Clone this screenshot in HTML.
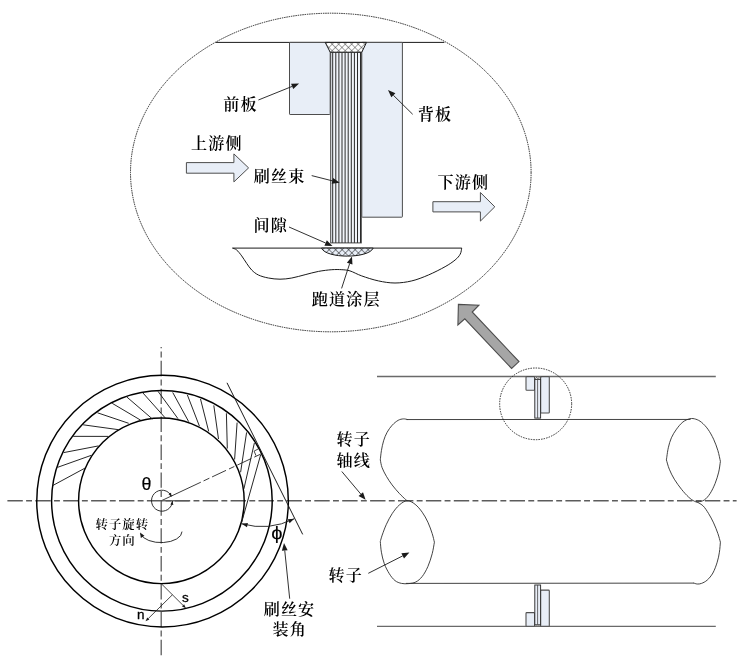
<!DOCTYPE html>
<html lang="zh">
<head>
<meta charset="utf-8">
<title>刷式密封结构示意图</title>
<style>
html,body{margin:0;padding:0;background:#fff;}
body{width:749px;height:664px;overflow:hidden;}
svg{display:block;will-change:transform;}
.cjk{font-family:"Liberation Serif","Noto Serif CJK SC",serif;fill:#000;letter-spacing:1.1px;font-weight:600;}
.lat{font-family:"Liberation Sans","DejaVu Sans",sans-serif;fill:#000;stroke:#000;stroke-width:0.3px;}
</style>
</head>
<body>
<svg width="749" height="664" viewBox="0 0 749 664">
<rect width="749" height="664" fill="#fff"/>
<ellipse cx="330.8" cy="172.5" rx="200.3" ry="159.3" fill="none" stroke="#1a1a1a" stroke-width="0.95" stroke-dasharray="1.45 0.85"/>
<line x1="215.8" y1="42.4" x2="444.4" y2="42.4" stroke="#1a1a1a" stroke-width="1"/>
<rect x="289.5" y="42.4" width="40.7" height="72.1" fill="#e8eef7" stroke="#4d4d4d" stroke-width="1" rx="0.6"/>
<rect x="361.8" y="42.4" width="40.6" height="174.8" fill="#e8eef7" stroke="#4d4d4d" stroke-width="1" rx="0.6"/>
<rect x="330.7" y="52.2" width="30.6" height="190.7" fill="#f1f4fa" stroke="#444" stroke-width="1"/>
<line x1="332.7" y1="52.2" x2="332.7" y2="242.9" stroke="#2a2a2a" stroke-width="1"/>
<line x1="335.8" y1="52.2" x2="335.8" y2="242.9" stroke="#2a2a2a" stroke-width="1"/>
<line x1="338.9" y1="52.2" x2="338.9" y2="242.9" stroke="#2a2a2a" stroke-width="1"/>
<line x1="342.0" y1="52.2" x2="342.0" y2="242.9" stroke="#2a2a2a" stroke-width="1"/>
<line x1="345.1" y1="52.2" x2="345.1" y2="242.9" stroke="#2a2a2a" stroke-width="1"/>
<line x1="348.2" y1="52.2" x2="348.2" y2="242.9" stroke="#2a2a2a" stroke-width="1"/>
<line x1="351.3" y1="52.2" x2="351.3" y2="242.9" stroke="#2a2a2a" stroke-width="1"/>
<line x1="354.4" y1="52.2" x2="354.4" y2="242.9" stroke="#2a2a2a" stroke-width="1"/>
<line x1="357.5" y1="52.2" x2="357.5" y2="242.9" stroke="#2a2a2a" stroke-width="1"/>
<line x1="360.5" y1="52.2" x2="360.5" y2="242.9" stroke="#2a2a2a" stroke-width="1"/>
<defs><pattern id="xh" width="4.6" height="4.6" patternUnits="userSpaceOnUse" patternTransform="translate(0.4 -2) rotate(45)"><path d="M0 0H4.6M0 0V4.6" stroke="#222" stroke-width="0.8" fill="none"/></pattern><pattern id="xh2" width="4.6" height="4.6" patternUnits="userSpaceOnUse" patternTransform="rotate(45 2 0)"><path d="M0 0H4.6M0 0V4.6" stroke="#111" stroke-width="0.95" fill="none"/></pattern></defs>
<polygon points="325.2,42.4 366.5,42.4 361.8,52.2 330.2,52.2" fill="#fff" stroke="none"/>
<polygon points="325.2,42.4 366.5,42.4 361.8,52.2 330.2,52.2" fill="url(#xh)" stroke="#1a1a1a" stroke-width="1"/>
<path d="M232.5 248.1 H461.8" stroke="#1a1a1a" stroke-width="1" fill="none"/>
<path d="M232.50 248.10 C233.20 248.42 235.17 248.70 236.70 250.00 C238.23 251.30 240.03 253.67 241.70 255.90 C243.37 258.13 245.03 261.05 246.70 263.40 C248.37 265.75 249.75 268.07 251.70 270.00 C253.65 271.93 255.62 273.67 258.40 275.00 C261.18 276.33 264.80 277.30 268.40 278.00 C272.00 278.70 276.10 279.20 280.00 279.20 C283.90 279.20 287.62 278.75 291.80 278.00 C295.98 277.25 300.65 275.80 305.10 274.70 C309.55 273.60 314.05 272.23 318.50 271.40 C322.95 270.57 327.92 269.98 331.80 269.70 C335.68 269.42 338.77 269.50 341.80 269.70 C344.83 269.90 346.68 269.87 350.00 270.90 C353.32 271.93 356.97 274.23 361.70 275.90 C366.43 277.57 372.85 279.72 378.40 280.90 C383.95 282.08 389.43 283.00 395.00 283.00 C400.57 283.00 406.23 282.23 411.80 280.90 C417.37 279.57 422.85 277.37 428.40 275.00 C433.95 272.63 440.65 269.20 445.10 266.70 C449.55 264.20 452.58 262.08 455.10 260.00 C457.62 257.92 459.10 256.18 460.20 254.20 C461.30 252.22 461.45 249.12 461.70 248.10" stroke="#1a1a1a" stroke-width="1" fill="none"/>
<path d="M321.5 248.1 C326 258.8 368.5 258.8 373.2 248.1 Z" fill="#e8eef7" stroke="none"/>
<path d="M321.5 248.1 C326 258.8 368.5 258.8 373.2 248.1 Z" fill="url(#xh2)" stroke="#1a1a1a" stroke-width="1"/>
<polygon points="186.4,162.6 233.9,162.6 233.9,153.9 248.6,167.9 233.9,181.9 233.9,173.20000000000002 186.4,173.20000000000002" fill="#e8eef7" stroke="#4d4d4d" stroke-width="1" stroke-linejoin="miter"/>
<polygon points="432.9,201.70000000000002 480.4,201.70000000000002 480.4,192.5 494.8,206.8 480.4,221.10000000000002 480.4,211.9 432.9,211.9" fill="#e8eef7" stroke="#4d4d4d" stroke-width="1" stroke-linejoin="miter"/>
<text x="223.20" y="109.90" font-size="16.1" class="cjk" text-anchor="start" >前板</text>
<line x1="258.40" y1="100.00" x2="292.14" y2="86.40" stroke="#1a1a1a" stroke-width="0.9"/><polygon points="299.10,83.60 293.23,89.09 291.06,83.71" fill="#1a1a1a"/>
<text x="417.80" y="120.40" font-size="16.1" class="cjk" text-anchor="start" >背板</text>
<line x1="412.70" y1="114.30" x2="393.35" y2="95.26" stroke="#1a1a1a" stroke-width="0.9"/><polygon points="388.00,90.00 395.38,93.19 391.31,97.33" fill="#1a1a1a"/>
<text x="191.00" y="148.50" font-size="16.1" class="cjk" text-anchor="start" >上游侧</text>
<text x="437.50" y="188.00" font-size="16.1" class="cjk" text-anchor="start" >下游侧</text>
<text x="253.80" y="181.80" font-size="16.1" class="cjk" text-anchor="start" >刷丝束</text>
<line x1="311.70" y1="175.60" x2="332.43" y2="180.86" stroke="#1a1a1a" stroke-width="0.9"/><polygon points="339.70,182.70 331.72,183.67 333.14,178.05" fill="#1a1a1a"/>
<text x="253.60" y="231.30" font-size="16.1" class="cjk" text-anchor="start" >间隙</text>
<line x1="289.00" y1="227.00" x2="325.63" y2="243.00" stroke="#1a1a1a" stroke-width="0.9"/><polygon points="332.50,246.00 324.47,245.66 326.79,240.34" fill="#1a1a1a"/>
<text x="311.80" y="305.10" font-size="16.1" class="cjk" text-anchor="start" >跑道涂层</text>
<line x1="341.60" y1="288.40" x2="349.68" y2="263.53" stroke="#1a1a1a" stroke-width="0.9"/><polygon points="352.00,256.40 352.44,264.43 346.92,262.64" fill="#1a1a1a"/>
<polygon points="458.4,304.4 478.9,305.2 472.2,312.0 519,361.6 511.6,368.5 464.8,318.8 457.9,324.9" fill="#a6a6a6" stroke="#4c4c4c" stroke-width="1.1" stroke-linejoin="miter"/>
<line x1="377" y1="376.5" x2="715.8" y2="376.5" stroke="#6a6a6a" stroke-width="1.3"/>
<line x1="377" y1="626.3" x2="715.8" y2="626.3" stroke="#6a6a6a" stroke-width="1.3"/>
<line x1="7.4" y1="500.75" x2="736.6" y2="500.75" stroke="#5c5c5c" stroke-width="1.3" stroke-dasharray="15.4 3.3 5.9 3.3"/>
<line x1="406.5" y1="419.55" x2="690.5" y2="419.45" stroke="#2e2e2e" stroke-width="0.9"/>
<line x1="406" y1="583.4" x2="694" y2="583.1" stroke="#2e2e2e" stroke-width="0.9"/>
<path d="M407.60 419.55 C406.90 419.44 404.97 418.77 403.40 418.90 C401.83 419.02 400.07 419.25 398.20 420.30 C396.33 421.35 394.05 423.20 392.20 425.20 C390.35 427.20 388.53 429.70 387.10 432.30 C385.67 434.90 384.55 437.73 383.60 440.80 C382.65 443.87 381.95 447.52 381.40 450.70 C380.85 453.88 380.48 458.37 380.30 459.90" stroke="#2e2e2e" stroke-width="0.9" fill="none" stroke-linejoin="round"/>
<path d="M380.30 459.90 C380.60 461.20 381.08 464.97 382.10 467.70 C383.12 470.43 384.73 473.43 386.40 476.30 C388.07 479.17 389.95 482.05 392.10 484.90 C394.25 487.75 397.03 490.95 399.30 493.40 C401.57 495.85 404.32 498.35 405.70 499.60 C407.08 500.85 407.28 500.68 407.60 500.90" stroke="#2e2e2e" stroke-width="0.9" fill="none" stroke-linejoin="round"/>
<path d="M380.30 541.50 C380.62 540.43 381.18 537.97 382.20 535.10 C383.22 532.23 384.73 527.88 386.40 524.30 C388.07 520.72 390.05 516.82 392.20 513.60 C394.35 510.38 396.80 507.15 399.30 505.00 C401.80 502.85 404.57 500.82 407.20 500.70 C409.83 500.58 412.60 502.38 415.10 504.30 C417.60 506.22 420.07 509.22 422.20 512.20 C424.33 515.18 426.23 518.63 427.90 522.20 C429.57 525.77 431.12 530.27 432.20 533.60 C433.28 536.93 434.03 540.77 434.40 542.20" stroke="#2e2e2e" stroke-width="0.9" fill="none" stroke-linejoin="round"/>
<path d="M380.30 541.50 C380.48 543.28 380.73 548.50 381.40 552.20 C382.07 555.90 382.98 560.12 384.30 563.70 C385.62 567.28 387.52 570.88 389.30 573.70 C391.08 576.52 392.97 578.98 395.00 580.60 C397.03 582.22 399.25 582.90 401.50 583.40 C403.75 583.90 406.12 583.83 408.50 583.60 C410.88 583.37 413.52 583.18 415.80 582.00 C418.08 580.82 420.18 579.08 422.20 576.50 C424.22 573.92 426.23 570.30 427.90 566.50 C429.57 562.70 431.12 557.75 432.20 553.70 C433.28 549.65 434.03 544.12 434.40 542.20" stroke="#2e2e2e" stroke-width="0.9" fill="none" stroke-linejoin="round"/>
<path d="M666.40 459.90 C666.72 457.88 667.47 451.48 668.30 447.80 C669.13 444.12 670.03 440.90 671.40 437.80 C672.77 434.70 674.58 431.83 676.50 429.20 C678.42 426.57 680.65 423.75 682.90 422.00 C685.15 420.25 687.85 419.17 690.00 418.70 C692.15 418.23 693.88 418.60 695.80 419.20 C697.72 419.80 699.48 420.63 701.50 422.30 C703.52 423.97 705.88 426.38 707.90 429.20 C709.92 432.02 711.93 435.63 713.60 439.20 C715.27 442.77 716.77 446.90 717.90 450.60 C719.03 454.30 719.98 459.60 720.40 461.40" stroke="#2e2e2e" stroke-width="0.9" fill="none" stroke-linejoin="round"/>
<path d="M666.40 459.90 C666.88 461.45 667.98 465.98 669.30 469.20 C670.62 472.42 672.27 475.85 674.30 479.20 C676.33 482.55 679.12 486.32 681.50 489.30 C683.88 492.28 686.47 495.12 688.60 497.10 C690.73 499.08 692.75 500.42 694.30 501.20 C695.85 501.98 696.23 502.00 697.90 501.80 C699.57 501.60 702.27 501.38 704.30 500.00 C706.33 498.62 708.30 496.25 710.10 493.50 C711.90 490.75 713.67 487.07 715.10 483.50 C716.53 479.93 717.82 475.78 718.70 472.10 C719.58 468.42 720.12 463.18 720.40 461.40" stroke="#2e2e2e" stroke-width="0.9" fill="none" stroke-linejoin="round"/>
<path d="M695.80 501.40 C696.98 502.12 700.77 503.67 702.90 505.70 C705.03 507.73 706.82 510.73 708.60 513.60 C710.38 516.47 712.05 519.57 713.60 522.90 C715.15 526.23 716.77 530.38 717.90 533.60 C719.03 536.82 719.98 540.77 720.40 542.20" stroke="#2e2e2e" stroke-width="0.9" fill="none" stroke-linejoin="round"/>
<path d="M720.40 542.20 C720.23 543.87 719.93 548.87 719.40 552.20 C718.87 555.53 718.28 558.73 717.20 562.20 C716.12 565.67 714.57 570.02 712.90 573.00 C711.23 575.98 709.10 578.37 707.20 580.10 C705.30 581.83 703.17 582.75 701.50 583.40 C699.83 584.05 698.52 584.07 697.20 584.00 C695.88 583.93 694.20 583.17 693.60 583.00" stroke="#2e2e2e" stroke-width="0.9" fill="none" stroke-linejoin="round"/>
<rect x="526.0" y="376.6" width="8.6" height="13.7" fill="#e8eef7" stroke="#505050" stroke-width="1.1" rx="0.8"/>
<rect x="540.6" y="376.6" width="8.7" height="36.4" fill="#e8eef7" stroke="#505050" stroke-width="1.1" rx="0.8"/>
<rect x="534.8" y="379.4" width="5.8" height="38.7" fill="#e9eef7" stroke="#2e2e2e" stroke-width="0.95"/>
<line x1="537.6" y1="379.4" x2="537.6" y2="418.1" stroke="#444" stroke-width="0.8"/>
<path d="M534.2 377 l1.4 2.2 M535.2 379 l1.6 -1.8 l1.6 1.8 l1.6 -1.8 M541.2 377 l-1.2 2.2 M536 377 l1.6 1.8 l1.6 -1.8" stroke="#444" stroke-width="0.45" fill="none"/>
<rect x="526.0" y="612.6" width="8.6" height="13.6" fill="#e8eef7" stroke="#505050" stroke-width="1.1" rx="0.8"/>
<rect x="540.6" y="590.1" width="8.7" height="36.1" fill="#e8eef7" stroke="#505050" stroke-width="1.1" rx="0.8"/>
<rect x="534.8" y="585.0" width="5.8" height="39.8" fill="#e9eef7" stroke="#2e2e2e" stroke-width="0.95"/>
<line x1="537.6" y1="585.0" x2="537.6" y2="624.8" stroke="#444" stroke-width="0.8"/>
<path d="M535.2 624.6 l1.2 1.4 l1.2 -1.4 l1.2 1.4 l1.2 -1.4" stroke="#666" stroke-width="0.4" fill="none"/>
<ellipse cx="535.65" cy="403.85" rx="36" ry="35.85" fill="none" stroke="#1a1a1a" stroke-width="0.9" stroke-dasharray="1.5 1.1"/>
<text x="336.50" y="445.00" font-size="16.1" class="cjk" text-anchor="start" >转子</text>
<text x="336.50" y="466.00" font-size="16.1" class="cjk" text-anchor="start" >轴线</text>
<line x1="341.80" y1="471.50" x2="360.77" y2="494.06" stroke="#1a1a1a" stroke-width="0.9"/><polygon points="365.60,499.80 358.55,495.93 362.99,492.19" fill="#1a1a1a"/>
<text x="328.60" y="581.00" font-size="16.1" class="cjk" text-anchor="start" >转子</text>
<line x1="368.30" y1="573.30" x2="402.71" y2="555.89" stroke="#1a1a1a" stroke-width="0.9"/><polygon points="409.40,552.50 404.02,558.47 401.40,553.30" fill="#1a1a1a"/>
<line x1="161.2" y1="347" x2="161.2" y2="655.7" stroke="#5c5c5c" stroke-width="1.3" stroke-dasharray="15.4 3.3 5.9 3.3" stroke-dashoffset="14.1"/>
<circle cx="162.55" cy="501.15" r="125.8" fill="none" stroke="#000" stroke-width="1.45"/>
<circle cx="161.9" cy="500.8" r="110.3" fill="none" stroke="#000" stroke-width="1.45"/>
<circle cx="161.4" cy="500.8" r="82.8" fill="none" stroke="#000" stroke-width="1.45"/>
<line x1="52.8" y1="485.5" x2="85.2" y2="468.0" stroke="#1a1a1a" stroke-width="0.95"/>
<line x1="57.4" y1="467.4" x2="91.1" y2="455.4" stroke="#1a1a1a" stroke-width="0.95"/>
<line x1="63.7" y1="452.6" x2="98.5" y2="445.9" stroke="#1a1a1a" stroke-width="0.95"/>
<line x1="73.2" y1="436.35" x2="108.2" y2="436.4" stroke="#1a1a1a" stroke-width="0.95"/>
<line x1="83.1" y1="424.8" x2="118.6" y2="429.7" stroke="#1a1a1a" stroke-width="0.95"/>
<line x1="97.5" y1="412.8" x2="128.7" y2="423.3" stroke="#1a1a1a" stroke-width="0.95"/>
<line x1="112.2" y1="403.3" x2="140.7" y2="420.2" stroke="#1a1a1a" stroke-width="0.95"/>
<line x1="126.6" y1="396.8" x2="152.3" y2="418.9" stroke="#1a1a1a" stroke-width="0.95"/>
<line x1="142.8" y1="392.8" x2="165.4" y2="418.1" stroke="#1a1a1a" stroke-width="0.95"/>
<line x1="158.0" y1="391.3" x2="178.0" y2="418.7" stroke="#1a1a1a" stroke-width="0.95"/>
<line x1="172.7" y1="392.4" x2="188.7" y2="421.7" stroke="#1a1a1a" stroke-width="0.95"/>
<line x1="187.4" y1="395.0" x2="199.4" y2="426.1" stroke="#1a1a1a" stroke-width="0.95"/>
<line x1="200.5" y1="399.0" x2="208.7" y2="431.4" stroke="#1a1a1a" stroke-width="0.95"/>
<line x1="213.8" y1="405.4" x2="218.5" y2="439.0" stroke="#1a1a1a" stroke-width="0.95"/>
<line x1="226.4" y1="413.3" x2="227.3" y2="448.5" stroke="#1a1a1a" stroke-width="0.95"/>
<line x1="237.1" y1="422.6" x2="234.6" y2="459.5" stroke="#1a1a1a" stroke-width="0.95"/>
<line x1="246.6" y1="432.4" x2="240.6" y2="472.3" stroke="#1a1a1a" stroke-width="0.95"/>
<line x1="254.4" y1="442.9" x2="243.9" y2="488.9" stroke="#1a1a1a" stroke-width="0.95"/>
<line x1="260.7" y1="454.6" x2="241.4" y2="523.2" stroke="#1a1a1a" stroke-width="0.95"/>
<line x1="227" y1="382.8" x2="302.7" y2="534.4" stroke="#1a1a1a" stroke-width="1.0"/>
<line x1="161.2" y1="500.8" x2="260.5" y2="454.2" stroke="#1a1a1a" stroke-width="0.85" stroke-dasharray="43.8 3 6.4 3 15.4 3.3 5.9 3.3 15.4 3.3 8"/>
<path d="M258.1 449.0 L254.1 451.1 L256.0 455.7" stroke="#1a1a1a" stroke-width="0.8" fill="none"/>
<path d="M241.60 523.74 A73.0 73.0 0 0 0 294.20 518.77" stroke="#1a1a1a" stroke-width="0.9" fill="none"/>
<polygon points="241.60,523.74 247.92,523.09 246.95,527.17" fill="#1a1a1a"/>
<polygon points="294.20,518.77 289.59,523.15 287.87,519.32" fill="#1a1a1a"/>
<text transform="translate(271.2 539.2) scale(1.22 1.06)" font-size="16.5" class="lat" style="stroke-width:0.12px">ϕ</text>
<line x1="161.2" y1="500.75" x2="189.3" y2="500.75" stroke="#5c5c5c" stroke-width="1.3"/>
<path d="M171.52 496.26 A10.5 10.5 0 1 0 172.50 501.00" fill="none" stroke="#1a1a1a" stroke-width="0.9"/>
<polygon points="171.50,496.70 168.39,494.05 171.04,492.64" fill="#1a1a1a"/>
<polygon points="172.40,501.00 173.36,504.97 170.39,504.55" fill="#1a1a1a"/>
<text x="141.50" y="489.90" font-size="17.8" class="lat" text-anchor="start" style="stroke-width:0.15px">θ</text>
<path d="M182.00 531.60 A20.9 11.0 0 0 1 140.66 533.89" stroke="#1a1a1a" stroke-width="0.9" fill="none"/>
<polygon points="140.00,532.60 144.43,535.73 140.87,537.95" fill="#1a1a1a"/>
<text x="122.30" y="528.50" font-size="12.4" class="cjk" text-anchor="middle" style="letter-spacing:0.95px">转子旋转</text>
<text x="122.30" y="544.50" font-size="12.4" class="cjk" text-anchor="middle" style="letter-spacing:0.95px">方向</text>
<line x1="161.80" y1="584.20" x2="183.07" y2="605.38" stroke="#1a1a1a" stroke-width="0.8"/><polygon points="185.90,608.20 182.01,606.44 184.12,604.31" fill="#1a1a1a"/>
<line x1="172.40" y1="594.80" x2="148.35" y2="618.49" stroke="#1a1a1a" stroke-width="0.8"/><polygon points="145.50,621.30 147.30,617.42 149.40,619.56" fill="#1a1a1a"/>
<text x="182.00" y="601.50" font-size="13.5" class="lat" text-anchor="start" >s</text>
<text x="136.90" y="619.00" font-size="13.5" class="lat" text-anchor="start" >n</text>
<text x="289.50" y="614.70" font-size="16.1" class="cjk" text-anchor="middle" >刷丝安</text>
<text x="289.70" y="635.20" font-size="16.1" class="cjk" text-anchor="middle" >装角</text>
<line x1="289.70" y1="598.70" x2="284.76" y2="550.56" stroke="#1a1a1a" stroke-width="0.9"/><polygon points="284.00,543.10 287.65,550.27 281.88,550.86" fill="#1a1a1a"/>
</svg>
</body>
</html>
